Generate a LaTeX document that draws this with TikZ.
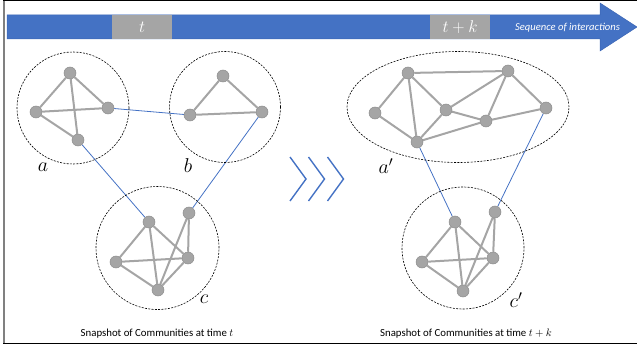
\documentclass[tikz,border=0pt]{standalone}
\usepackage{fix-cm}
\usepackage{fontspec}
\setmainfont{Carlito}
\usetikzlibrary{shapes.geometric}
\definecolor{ofblue}{HTML}{4472C4}
\definecolor{ofblueedge}{HTML}{3B66B5}
\definecolor{nodegray}{HTML}{A5A5A5}
\definecolor{nodeedge}{HTML}{8C8C8C}
\pgfdeclarelayer{background}
\pgfsetlayers{background,main}
\tikzset{
  vtx/.style={circle, fill=nodegray, draw=nodeedge, line width=0.5pt, minimum size=12pt, inner sep=0pt},
  tie/.style={draw=nodegray, line width=2pt},
  link/.style={draw=ofblue, line width=0.8pt},
  commun/.style={circle, draw=black, dash pattern=on 2pt off 1.3pt, line width=0.6pt, inner sep=0pt},
  lbl/.style={font=\fontsize{20}{20}\selectfont, inner sep=0pt},
  chev/.style={draw=ofblue, line width=1.4pt},
  caption/.style={font=\fontsize{10.8}{12}\selectfont, inner sep=0pt},
  stamp/.style={fill=nodegray, minimum width=60pt, minimum height=24pt, inner sep=0pt,
    anchor=north west, text=white, font=\fontsize{17}{17}\selectfont},
}
\begin{document}
\begin{tikzpicture}[x=1pt,y=-1pt]
\useasboundingbox (0,0) rectangle (637,350);

% frame
\draw[gray, line width=1.2pt] (4,0) -- (4,343);
\draw[black, line width=0.8pt] (3.4,0.4) -- (637,0.4);
\draw[black, line width=0.8pt] (3.4,343) -- (637,343);

% timeline arrow
\filldraw[fill=ofblue, draw=ofblueedge, line width=0.5pt]
  (7,15) -- (600,15) -- (600,3) -- (637,27) -- (600,51) -- (600,39) -- (7,39) -- cycle;
\node[stamp] (tbox) at (112,15) {$t$};
\node[stamp] (tkbox) at (430,15) {$t+k$};
\node[text=white, font=\fontsize{10.6}{11}\selectfont\itshape, inner sep=0pt] (seq) at (567.5,28) {Sequence of interactions};

% ---- time t ----
\node[commun, minimum size=112pt] (ca) at (73,108) {};
\node[commun, minimum size=111pt] (cb) at (225,107) {};
\node[commun, minimum size=123pt] (cc) at (157.5,248) {};

\node[vtx] (a1) at (70,73) {};
\node[vtx] (a2) at (36,112) {};
\node[vtx] (a3) at (108,108) {};
\node[vtx] (a4) at (78,140) {};

\node[vtx] (b1) at (223,76) {};
\node[vtx] (b2) at (190,115) {};
\node[vtx] (b3) at (262,112) {};

\node[vtx] (c1) at (149,222) {};
\node[vtx] (c2) at (189,213) {};
\node[vtx] (c3) at (116,262) {};
\node[vtx] (c4) at (188,258) {};
\node[vtx] (c5) at (158,290) {};

\begin{pgfonlayer}{background}
  \draw[tie] (a1) -- (a2) (a1) -- (a3) (a1) -- (a4) (a2) -- (a3) (a2) -- (a4);
  \draw[tie] (b1) -- (b2) (b1) -- (b3) (b2) -- (b3);
  \draw[tie] (c1) -- (c3) (c1) -- (c4) (c1) -- (c5) (c3) -- (c4) (c3) -- (c5)
             (c4) -- (c5) (c2) -- (c4) (c2) -- (c5);
  \draw[link] (a3) -- (b2) (a4) -- (c1) (b3) -- (c2);
\end{pgfonlayer}

\node[lbl] (la) at (43,167) {$a$};
\node[lbl] (lb) at (188,166) {$b$};
\node[lbl] (lc) at (204,299) {$c$};

% ---- transition chevrons ----
\foreach \dx in {0,18.5,37.5}
  \draw[chev] (290+\dx,157) -- (306+\dx,179) -- (290+\dx,201);

% ---- time t+k ----
\node[ellipse, draw=black, dash pattern=on 2pt off 1.3pt, line width=0.6pt, inner sep=0pt,
      minimum width=222pt, minimum height=111pt] (ce) at (458,107) {};
\node[commun, minimum size=122pt] (cf) at (463,248) {};

\node[vtx] (d1) at (408,73) {};
\node[vtx] (d2) at (508,71) {};
\node[vtx] (d3) at (375,113) {};
\node[vtx] (d4) at (446,110) {};
\node[vtx] (d5) at (486,121) {};
\node[vtx] (d6) at (546,108) {};
\node[vtx] (d7) at (417,142) {};

\node[vtx] (e1) at (455,222) {};
\node[vtx] (e2) at (495,212) {};
\node[vtx] (e3) at (422,262) {};
\node[vtx] (e4) at (493,258) {};
\node[vtx] (e5) at (463,291) {};

\begin{pgfonlayer}{background}
  \draw[tie] (d1) -- (d2) (d1) -- (d3) (d1) -- (d7) (d1) -- (d4) (d3) -- (d7)
             (d7) -- (d4) (d7) -- (d5) (d4) -- (d2) (d4) -- (d5) (d5) -- (d2)
             (d2) -- (d6) (d5) -- (d6);
  \draw[tie] (e1) -- (e3) (e1) -- (e4) (e1) -- (e5) (e3) -- (e4) (e3) -- (e5)
             (e4) -- (e5) (e2) -- (e4) (e2) -- (e5);
  \draw[link] (d7) -- (e1) (d6) -- (e2);
\end{pgfonlayer}

\node[lbl] (lap) at (386,166) {$a'$};
\node[lbl] (lcp) at (516,300) {$c'$};

% captions
\node[caption] (capl) at (157,333.5) {Snapshot of Communities at time $t$};
\node[caption] (capr) at (466,333.5) {Snapshot of Communities at time $t+k$};
\end{tikzpicture}
\end{document}
